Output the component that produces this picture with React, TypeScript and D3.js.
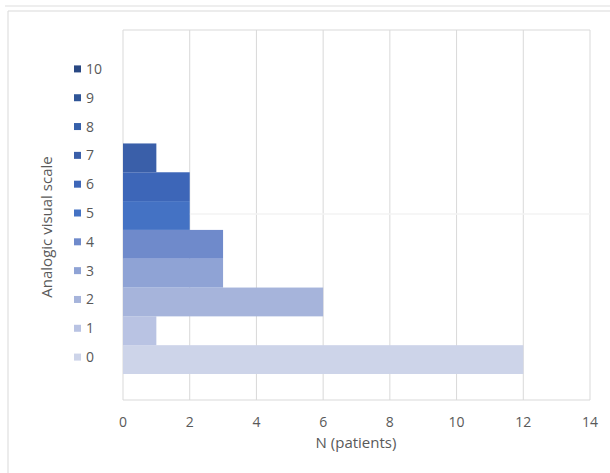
import React from "react";
import * as d3 from "d3";

const categories = ["0", "1", "2", "3", "4", "5", "6", "7", "8", "9", "10"];
const patients = [12, 1, 6, 3, 3, 2, 2, 1, 0, 0, 0];
const colors = ["#CDD4E9", "#B9C3E3", "#A6B4DB", "#8FA3D5", "#6F8ACB", "#4472C4", "#3D66B8", "#3A5FA9", "#3660AA", "#2F5597", "#294883"];
const xTicks = [0, 2, 4, 6, 8, 10, 12, 14];

export default function App() {
  const W = 610, H = 473;
  const plotL = 123, plotR = 590, plotT = 30, plotB = 400;
  const x = d3.scaleLinear().domain([0, 14]).range([plotL, plotR]);
  const y = d3.scaleBand<string>().domain([...categories].reverse()).range([57, 374]).paddingInner(0);
  const font = "'Open Sans', 'Liberation Sans', sans-serif";
  const textColor = "#595959";
  return (
    <svg width={W} height={H} style={{ position: "absolute", left: 0, top: 0 }}>
      <rect x={0} y={0} width={W} height={H} fill="#fff" />
      <line x1={5} x2={W} y1={6} y2={6} stroke="#eeeeee" strokeWidth={2} />
      <line x1={8} x2={W} y1={11} y2={11} stroke="#d9d9d9" strokeWidth={1} />
      <line x1={8} x2={8} y1={11} y2={H} stroke="#d9d9d9" strokeWidth={1} />
      {xTicks.map((t) => (
        <line key={"g" + t} x1={x(t)} x2={x(t)} y1={plotT} y2={plotB} stroke="#d9d9d9" strokeWidth={1} />
      ))}
      <line x1={plotL} x2={plotR} y1={plotT} y2={plotT} stroke="#d9d9d9" strokeWidth={1} />
      <line x1={plotL} x2={plotR} y1={plotB} y2={plotB} stroke="#d9d9d9" strokeWidth={1} />
      <line x1={plotL} x2={plotR} y1={214} y2={214} stroke="#f3f3f3" strokeWidth={1.5} />
      {categories.map((c, i) => (
        <rect key={"b" + c} x={x(0)} y={y(c)!} width={x(patients[i]) - x(0)} height={y.bandwidth()} fill={colors[i]} />
      ))}
      {categories.map((c, i) => {
        const cy = y(c)! + y.bandwidth() / 2 - 2.5;
        return (
          <g key={"l" + c}>
            <rect x={74} y={cy - 3.5} width={7} height={7} fill={colors[i]} />
            <text x={86} y={cy} dy="0.36em" fontSize={14} fill={textColor} fontFamily={font}>{c}</text>
          </g>
        );
      })}
      {xTicks.map((t) => (
        <text key={"t" + t} x={x(t)} y={422} dy="0.36em" textAnchor="middle" fontSize={14} fill={textColor} fontFamily={font}>{t}</text>
      ))}
      <text x={356} y={443} dy="0.36em" textAnchor="middle" fontSize={15} fill={textColor} fontFamily={font}>N (patients)</text>
      <text transform={`translate(47,227) rotate(-90)`} dy="0.36em" textAnchor="middle" fontSize={15} fill={textColor} fontFamily={font}>Analogic visual scale</text>
    </svg>
  );
}
